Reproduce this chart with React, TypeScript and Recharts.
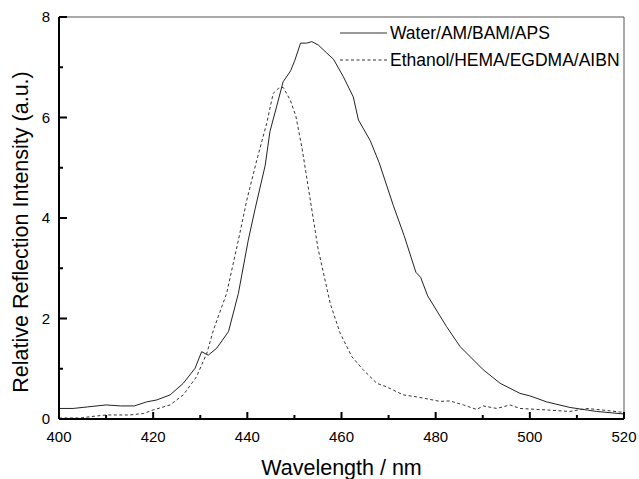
import { Legend, Line, LineChart, ReferenceLine, XAxis, YAxis } from "recharts";

const seriesNames = ["Water/AM/BAM/APS", "Ethanol/HEMA/EGDMA/AIBN"];

const waterWavelength = [
  400, 403, 406, 410, 413, 416, 418.6, 420.8, 423.6, 426.4, 428.9, 430.3,
  431.7, 433.5, 436, 438.1, 440.2, 441.6, 443.8, 444.8, 446.2, 447.6, 449.2,
  450.1, 451.3, 452.6, 453.7, 455.1, 456.9, 458.3, 460.4, 462.5, 463.6, 466.1,
  468, 471, 473.3, 475.8, 476.8, 478.3, 482.3, 485.2, 490.1, 493.7, 497.9, 500,
  503.6, 508.5, 514.2, 520,
];
const waterIntensity = [
  0.21, 0.21, 0.24, 0.28, 0.26, 0.26, 0.34, 0.38, 0.48, 0.71, 1.01, 1.34, 1.27,
  1.41, 1.74, 2.5, 3.56, 4.16, 5.05, 5.72, 6.21, 6.71, 6.93, 7.14, 7.48, 7.48,
  7.51, 7.44, 7.28, 7.16, 6.81, 6.41, 5.95, 5.54, 5.1, 4.25, 3.65, 2.92, 2.82,
  2.45, 1.84, 1.44, 0.98, 0.71, 0.51, 0.46, 0.34, 0.23, 0.15, 0.1,
];

const ethanolWavelength = [
  400, 404.5, 407, 410, 415, 418, 420, 423.6, 426.4, 429.2, 431.4, 432.8, 435.6,
  438.1, 439.9, 442, 444.1, 445.5, 446.6, 447.6, 449.1, 450.3, 451.6, 453.3,
  455, 457.6, 459.7, 462.2, 464.6, 467.5, 469.6, 473.1, 476, 478.8, 480.9, 483,
  485.9, 488.7, 490.1, 493, 495.8, 497.9, 503.6, 508.5, 512.1, 516.3, 520,
];
const ethanolIntensity = [
  0.02, 0.02, 0.05, 0.08, 0.08, 0.11, 0.18, 0.28, 0.48, 0.84, 1.31, 1.77, 2.5,
  3.56, 4.36, 5.15, 5.88, 6.48, 6.58, 6.6, 6.35, 6.03, 5.4, 4.4, 3.4, 2.3, 1.71,
  1.24, 0.98, 0.71, 0.64, 0.48, 0.44, 0.39, 0.35, 0.36, 0.28, 0.19, 0.26, 0.21,
  0.28, 0.21, 0.18, 0.15, 0.21, 0.17, 0.13,
];

const xTicks = [400, 410, 420, 430, 440, 450, 460, 470, 480, 490, 500, 510, 520];
const xLabelTicks = [400, 420, 440, 460, 480, 500, 520];
const yTicks = [0, 1, 2, 3, 4, 5, 6, 7, 8];
const yLabelTicks = [0, 2, 4, 6, 8];

const FONT = '"Liberation Sans", Arial, Helvetica, sans-serif';

const water = waterWavelength.map((x, i) => ({ x, y: waterIntensity[i] }));
const ethanol = ethanolWavelength.map((x, i) => ({ x, y: ethanolIntensity[i] }));

// ticks point into the plot; the axis line sits tickMargin away from the label
function XTick(props: any) {
  const { x, y, payload } = props;
  const major = xLabelTicks.includes(payload.value);
  const base = y - 12;
  return (
    <g>
      <line x1={x} x2={x} y1={base} y2={base - (major ? 7 : 4)} stroke="#000" strokeWidth={2} />
      {major && (
        <text x={x} y={y} dy="0.71em" textAnchor="middle" fontSize={15} fontFamily={FONT} fill="#000">
          {payload.value}
        </text>
      )}
    </g>
  );
}

function YTick(props: any) {
  const { x, y, payload } = props;
  const major = yLabelTicks.includes(payload.value);
  const base = x + 9;
  return (
    <g>
      <line x1={base} x2={base + (major ? 8 : 4)} y1={y} y2={y} stroke="#000" strokeWidth={2} />
      {major && (
        <text x={x} y={y} dy="0.355em" textAnchor="end" fontSize={15} fontFamily={FONT} fill="#000">
          {payload.value}
        </text>
      )}
    </g>
  );
}

function YTitle(props: any) {
  const vb = props.viewBox ?? { x: 0, y: 0, width: 0, height: 0 };
  const cx = vb.x + 28;
  const cy = vb.y + vb.height / 2 + 14;
  return (
    <text
      x={cx}
      y={cy}
      transform={`rotate(-90 ${cx} ${cy})`}
      textAnchor="middle"
      fontSize={21.5}
      fontFamily={FONT}
      fill="#000"
    >
      Relative Reflection Intensity (a.u.)
    </text>
  );
}

function LegendBox(props: any) {
  const items = [...(props.payload ?? [])].sort(
    (a: any, b: any) => seriesNames.indexOf(a.value) - seriesNames.indexOf(b.value),
  );
  return (
    <div style={{ fontFamily: FONT, fontSize: 17.5, color: "#000" }}>
      {items.map((item: any) => (
        <div key={item.value} style={{ display: "flex", alignItems: "center", height: 27 }}>
          <svg width={50} height={10}>
            <line
              x1={0}
              x2={47}
              y1={5}
              y2={5}
              stroke="#333"
              strokeWidth={1}
              strokeDasharray={item.payload?.strokeDasharray}
            />
          </svg>
          <span style={{ whiteSpace: "nowrap" }}>{item.value}</span>
        </div>
      ))}
    </div>
  );
}

export default function App() {
  return (
    <div style={{ position: "absolute", left: 0, top: 0, width: 639, height: 479, background: "#fff" }}>
      <LineChart
        width={639}
        height={479}
        margin={{ top: 17, right: 15, left: 0, bottom: 0 }}
      >
        <XAxis
          type="number"
          dataKey="x"
          domain={[400, 520]}
          ticks={xTicks}
          interval={0}
          allowDataOverflow
          height={60}
          tickSize={0}
          tickMargin={12}
          tickLine={false}
          tick={<XTick />}
          axisLine={{ stroke: "#000", strokeWidth: 2 }}
          label={{
            value: "Wavelength / nm",
            position: "insideBottom",
            offset: 4,
            fontSize: 21.5,
            fontFamily: FONT,
            fill: "#000",
          }}
        />
        <YAxis
          type="number"
          dataKey="y"
          domain={[0, 8]}
          ticks={yTicks}
          interval={0}
          allowDataOverflow
          width={59}
          tickSize={0}
          tickMargin={9}
          tickLine={false}
          tick={<YTick />}
          axisLine={{ stroke: "#000", strokeWidth: 2 }}
          label={<YTitle />}
        />
        <ReferenceLine y={8} stroke="#555" strokeWidth={1} />
        <ReferenceLine x={520} stroke="#555" strokeWidth={1} />
        <Line
          data={water}
          dataKey="y"
          name={seriesNames[0]}
          type="linear"
          stroke="#222"
          strokeWidth={1}
          dot={false}
          isAnimationActive={false}
        />
        <Line
          data={ethanol}
          dataKey="y"
          name={seriesNames[1]}
          type="linear"
          stroke="#333"
          strokeWidth={1}
          strokeDasharray="3 2.5"
          dot={false}
          isAnimationActive={false}
        />
        <Legend
          layout="vertical"
          align="center"
          verticalAlign="middle"
          content={<LegendBox />}
          wrapperStyle={{ left: 340, top: 19.5, width: "auto" }}
        />
      </LineChart>
    </div>
  );
}
